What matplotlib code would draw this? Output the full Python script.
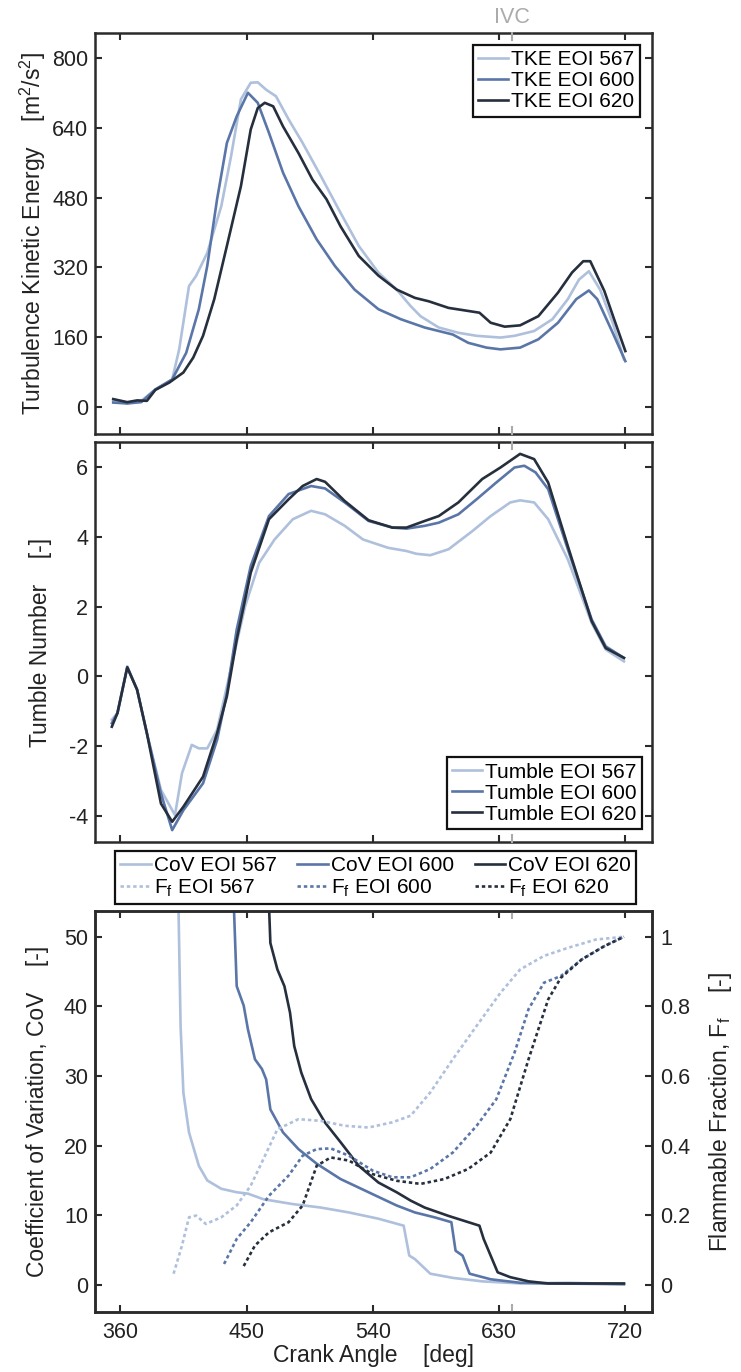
import matplotlib
matplotlib.use("Agg")
import matplotlib.pyplot as plt

plt.rcParams['font.family'] = ['Liberation Sans', 'DejaVu Sans']
plt.rcParams['mathtext.fontset'] = 'custom'
plt.rcParams['mathtext.rm'] = 'Liberation Sans'
plt.rcParams['mathtext.it'] = 'Liberation Sans'
plt.rcParams['axes.unicode_minus'] = False

# ---------------- data ----------------
labels_eoi = ["567", "600", "620"]
colors = ["#aec0dc", "#5a76a8", "#262f3d"]
ivc_angle = 639
x_ticks = [360, 450, 540, 630, 720]

# TKE
tke567_ca = [355, 365, 375, 385, 397, 402, 409, 414, 422, 432, 439, 446, 453, 458, 464, 471, 480, 490,
             503, 517, 530, 544, 557, 567, 574, 587, 601, 614, 631, 641, 655, 668, 679, 687, 694, 702, 711, 719]
tke567_val = [14, 8, 14, 40, 63, 132, 277, 300, 353, 460, 575, 705, 743, 744, 727, 712, 659, 605,
              529, 445, 369, 308, 269, 231, 208, 182, 170, 163, 159, 163, 174, 201, 247, 292, 311, 269, 193, 109]
tke600_ca = [355, 365, 375, 385, 397, 407, 416, 422, 429, 436, 443, 451, 458, 466, 476, 487, 500, 513,
             527, 544, 560, 577, 597, 608, 621, 631, 645, 658, 672, 685, 694, 700, 711, 720]
tke600_val = [10, 8, 11, 40, 63, 124, 224, 323, 476, 605, 666, 720, 697, 628, 537, 460, 384, 323,
              269, 224, 201, 182, 166, 147, 136, 132, 136, 155, 193, 247, 267, 247, 170, 105]
tke620_ca = [355, 365, 372, 379, 385, 395, 405, 412, 419, 427, 436, 446, 453, 458, 463, 469, 476, 487,
             497, 507, 517, 530, 544, 557, 570, 580, 594, 608, 616, 624, 634, 645, 658, 672, 682, 690,
             695, 705, 712, 720]
tke620_val = [18, 11, 15, 14, 39, 56, 79, 113, 163, 247, 369, 506, 636, 685, 697, 689, 643, 582,
              521, 476, 414, 346, 301, 269, 250, 242, 227, 220, 216, 193, 184, 187, 208, 262, 308, 334,
              334, 266, 201, 128]

# Tumble number
tum567_ca = [354, 358, 365, 372, 379, 389, 399, 404, 411, 416, 422, 429, 436, 443, 449, 459, 470, 483,
             496, 506, 520, 533, 551, 564, 571, 581, 594, 611, 624, 638, 645, 655, 665, 679, 696, 706, 719]
tum567_val = [-1.24, -1.05, 0.29, -0.38, -1.63, -3.25, -3.97, -2.77, -1.96, -2.06, -2.06, -1.53, -0.29,
              0.96, 2.01, 3.25, 3.92, 4.50, 4.74, 4.64, 4.31, 3.92, 3.68, 3.59, 3.51, 3.47, 3.64, 4.16,
              4.59, 4.98, 5.04, 4.98, 4.50, 3.35, 1.53, 0.77, 0.43]
tum600_ca = [354, 358, 365, 372, 379, 389, 397, 405, 419, 429, 436, 443, 453, 466, 480, 496, 506, 520,
             537, 554, 564, 577, 587, 601, 614, 628, 641, 648, 656, 665, 679, 696, 706, 719]
tum600_val = [-1.34, -1.05, 0.26, -0.38, -1.63, -3.35, -4.40, -3.83, -3.06, -1.82, -0.48, 1.34, 3.16,
              4.59, 5.22, 5.45, 5.38, 4.98, 4.45, 4.26, 4.23, 4.31, 4.40, 4.64, 5.07, 5.55, 5.98, 6.03,
              5.84, 5.36, 3.64, 1.63, 0.86, 0.53]
tum620_ca = [354, 358, 365, 372, 379, 389, 397, 405, 419, 429, 436, 443, 453, 466, 480, 490, 500, 506,
             520, 537, 554, 564, 577, 587, 601, 618, 631, 645, 655, 665, 679, 696, 706, 719]
tum620_val = [-1.44, -1.05, 0.26, -0.38, -1.63, -3.64, -4.16, -3.73, -2.87, -1.63, -0.57, 1.05, 2.97,
              4.50, 5.07, 5.45, 5.65, 5.57, 5.02, 4.47, 4.26, 4.26, 4.45, 4.59, 4.98, 5.65, 5.98, 6.37,
              6.22, 5.55, 3.73, 1.58, 0.81, 0.53]

# Coefficient of variation
cov567_ca = [401, 403, 405, 409, 416, 422, 432, 443, 451, 462, 483, 503, 523, 544, 562, 566, 570, 581,
             597, 618, 645, 679, 719]
cov567_val = [60.0, 37.2, 27.6, 21.9, 17.1, 15.0, 13.8, 13.3, 13.1, 12.3, 11.6, 11.1, 10.4, 9.5, 8.5,
              4.2, 3.7, 1.6, 1.0, 0.5, 0.2, 0.3, 0.1]
cov600_ca = [440, 443, 448, 451, 456, 461, 464, 467, 476, 487, 500, 517, 537, 557, 570, 584, 596, 599,
             604, 609, 624, 645, 665, 719]
cov600_val = [60.0, 42.9, 40.1, 36.7, 32.4, 31.0, 29.5, 25.2, 21.9, 19.5, 17.4, 15.2, 13.3, 11.4, 10.4,
              9.7, 9.0, 4.9, 4.2, 1.6, 0.8, 0.3, 0.2, 0.1]
cov620_ca = [465, 467, 472, 477, 481, 484, 489, 496, 506, 517, 530, 544, 557, 567, 577, 594, 616, 619,
             624, 629, 638, 651, 665, 719]
cov620_val = [60.0, 49.1, 45.3, 42.9, 39.1, 34.3, 30.5, 26.7, 23.3, 20.5, 17.1, 14.7, 13.3, 12.1, 11.1,
              9.9, 8.5, 6.6, 4.2, 1.8, 1.1, 0.5, 0.2, 0.2]

# Flammable fraction
ff567_ca = [398, 404, 409, 414, 421, 432, 443, 453, 462, 472, 487, 503, 520, 537, 554, 567, 581, 597,
            614, 631, 645, 662, 679, 699, 719]
ff567_val = [0.032, 0.113, 0.194, 0.199, 0.175, 0.194, 0.228, 0.285, 0.361, 0.447, 0.476, 0.471, 0.457,
             0.452, 0.467, 0.486, 0.553, 0.648, 0.744, 0.839, 0.906, 0.945, 0.968, 0.992, 1.0]
ff600_ca = [434, 443, 453, 466, 480, 490, 500, 510, 523, 540, 554, 567, 581, 597, 614, 628, 641, 651,
            662, 674, 689, 705, 719]
ff600_val = [0.060, 0.132, 0.180, 0.256, 0.314, 0.371, 0.390, 0.392, 0.371, 0.328, 0.309, 0.309, 0.333,
             0.380, 0.457, 0.533, 0.667, 0.792, 0.868, 0.887, 0.935, 0.973, 1.0]
ff620_ca = [448, 456, 466, 480, 490, 500, 510, 523, 540, 557, 574, 591, 608, 624, 638, 651, 665, 674,
            689, 705, 719]
ff620_val = [0.054, 0.113, 0.151, 0.180, 0.228, 0.342, 0.366, 0.357, 0.318, 0.299, 0.290, 0.304, 0.333,
             0.380, 0.476, 0.648, 0.820, 0.882, 0.935, 0.973, 1.0]

# ---------------- style ----------------
TFS = 15.5   # tick labels
LFS = 16.5   # axis labels
GFS = 15     # legends
LW = 1.9
SPINE = "#2b2b2b"
TXT = "#222222"
IVC_COLOR = "#ababab"
DOT = (0, (1.3, 1.1))

W, H = 741, 1372
fig = plt.figure(figsize=(W / 100, H / 100), dpi=100)


def box(top, bottom, left=95, right=652):
    return [left / W, 1 - bottom / H, (right - left) / W, (bottom - top) / H]


def style_spines(ax):
    for s in ax.spines.values():
        s.set_color(SPINE)
        s.set_linewidth(1.8)


def style_axes(ax, right=True):
    style_spines(ax)
    ax.tick_params(direction="in", length=5, width=1.5, color=SPINE, labelsize=TFS,
                   labelcolor=TXT, top=True, right=right)
    ax.tick_params(axis="y", pad=5)
    ax.tick_params(axis="x", pad=7)
    ax.set_xlim(342, 739)
    ax.set_xticks(x_ticks)
    for y0, y1 in [(0, 0.018), (0.982, 1)]:
        ax.plot([ivc_angle, ivc_angle], [y0, y1], color=IVC_COLOR, lw=1.5,
                transform=ax.get_xaxis_transform(), clip_on=False, zorder=5)


LEG_KW = dict(fontsize=GFS, frameon=True, fancybox=False, framealpha=1, edgecolor="#111111",
              handlelength=1.45, handletextpad=0.15, labelspacing=0.1, borderpad=0.25)


def leg(ax, handles, labels, loc, anchor):
    lg = ax.legend(handles, labels, loc=loc, bbox_to_anchor=anchor, borderaxespad=0, **LEG_KW)
    lg.get_frame().set_linewidth(1.6)
    return lg


# ---- top panel: TKE
ax1 = fig.add_axes(box(33, 434))
tke_ca = [tke567_ca, tke600_ca, tke620_ca]
tke_val = [tke567_val, tke600_val, tke620_val]
h1 = []
for ca, v, c in zip(tke_ca, tke_val, colors):
    h1 += ax1.plot(ca, v, color=c, lw=LW)
ax1.set_ylim(-62, 857)
ax1.set_yticks([0, 160, 320, 480, 640, 800])
style_axes(ax1)
ax1.set_xticklabels([])
ax1.set_ylabel("Turbulence Kinetic Energy    [m$^2$/s$^2$]", fontsize=LFS, color=TXT, labelpad=3)
leg(ax1, h1, ["TKE EOI " + s for s in labels_eoi], "upper right", (1 - 12 / 557, 1 - 12 / 401))
ax1.text(ivc_angle, 1.012, "IVC", transform=ax1.get_xaxis_transform(), ha="center", va="bottom",
         fontsize=TFS, color=IVC_COLOR)

# ---- middle panel: tumble
ax2 = fig.add_axes(box(442, 842))
tum_ca = [tum567_ca, tum600_ca, tum620_ca]
tum_val = [tum567_val, tum600_val, tum620_val]
h2 = []
for ca, v, c in zip(tum_ca, tum_val, colors):
    h2 += ax2.plot(ca, v, color=c, lw=LW)
ax2.set_ylim(-4.74, 6.71)
ax2.set_yticks([-4, -2, 0, 2, 4, 6])
style_axes(ax2)
ax2.set_xticklabels([])
ax2.set_ylabel("Tumble Number    [-]", fontsize=LFS, color=TXT, labelpad=12)
leg(ax2, h2, ["Tumble EOI " + s for s in labels_eoi], "lower right", (1 - 10 / 557, 13 / 400))

# ---- bottom panel: CoV & Ff
ax3 = fig.add_axes(box(911, 1312))
ax4 = ax3.twinx()
cov_ca = [cov567_ca, cov600_ca, cov620_ca]
cov_val = [cov567_val, cov600_val, cov620_val]
ff_ca = [ff567_ca, ff600_ca, ff620_ca]
ff_val = [ff567_val, ff600_val, ff620_val]
hc, hf = [], []
for ca, v, c in zip(cov_ca, cov_val, colors):
    hc += ax3.plot(ca, v, color=c, lw=LW)
for ca, v, c in zip(ff_ca, ff_val, colors):
    hf += ax4.plot(ca, v, color=c, lw=LW, linestyle=DOT)
ax3.set_ylim(-3.9, 53.7)
ax3.set_yticks([0, 10, 20, 30, 40, 50])
ax4.set_ylim(-0.078, 1.074)
ax4.set_yticks([0, 0.2, 0.4, 0.6, 0.8, 1.0])
ax4.set_yticklabels(["0", "0.2", "0.4", "0.6", "0.8", "1"])
style_axes(ax3, right=False)
style_spines(ax4)
ax4.tick_params(direction="in", length=5, width=1.5, color=SPINE, labelsize=TFS,
                labelcolor=TXT, pad=6)
ax4.set_xlim(342, 739)
ax3.set_xlabel("Crank Angle    [deg]", fontsize=LFS, color=TXT, labelpad=1)
ax3.set_ylabel("Coefficient of Variation, CoV    [-]", fontsize=LFS, color=TXT, labelpad=11)
ax4.set_ylabel("Flammable Fraction, F$_f$    [-]", fontsize=LFS, color=TXT, labelpad=12)

handles, labs = [], []
for i, s in enumerate(labels_eoi):
    handles += [hc[i], hf[i]]
    labs += ["CoV EOI " + s, "F$_f$ EOI " + s]
lg = fig.legend(handles, labs, loc="center", bbox_to_anchor=(0.507, 1 - 877.5 / H), ncol=3,
                columnspacing=1.0, **LEG_KW)
lg.get_frame().set_linewidth(1.6)

fig.savefig("out.png", dpi=100)
